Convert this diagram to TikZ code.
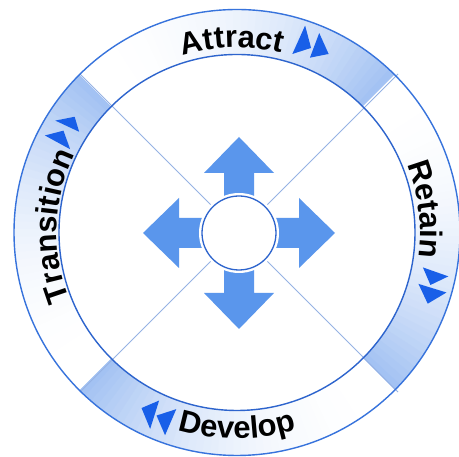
\documentclass[tikz,border=0pt]{standalone}
\usepackage{fontspec}
\newfontfamily\lblfont{Liberation Sans}
\usetikzlibrary{decorations.text,calc}
\definecolor{ringline}{RGB}{55,115,220}
\definecolor{innerline}{RGB}{45,100,205}
\definecolor{diagline}{RGB}{150,178,228}
\definecolor{ringshade}{RGB}{160,192,242}
\definecolor{arrowblue}{RGB}{90,150,236}
\definecolor{triblue}{RGB}{25,95,232}
\newcommand{\lblstyle}{\lblfont\bfseries\fontsize{31}{37}\selectfont}
\begin{document}
\begin{tikzpicture}[x=1pt,y=1pt,
  ringcircle/.style={draw=ringline,line width=1.4pt},
  innercircle/.style={draw=innerline,line width=1.4pt},
  diag/.style={draw=diagline,line width=0.9pt},
  bigarrow/.style={fill=arrowblue},
  tri/.style={fill=triblue},
  arclabel/.style={decorate,decoration={text along path,text align=center,text={|\lblstyle|#1}}}]
\useasboundingbox (0,0) rectangle (459,457);
\fill[white] (0,0) rectangle (459,457);
\coordinate (C) at (237,224.5);
\coordinate (S) at (239,224);
% shaded ring segments
\begin{scope}[shift={(C)}]
\foreach \st in {135,45,-45,-135}{
  \foreach \i in {0,...,44}{
    \pgfmathsetmacro\aa{\st-2*\i}
    \pgfmathsetmacro\ab{\st-2*\i-2-0.4*(\i<44)}
    \pgfmathtruncatemacro\pp{100*((\i+0.5)/45)^2.3}
    \fill[ringshade!\pp!white] (\aa:178) arc[start angle=\aa,end angle=\ab,radius=178]
      -- (\ab:223) arc[start angle=\ab,end angle=\aa,radius=223] -- cycle;
  }
}
\end{scope}
% diagonals
\foreach \a in {45,135,225,315}{
  \draw[diag] (S) -- ($(S)+(\a:225)$);
}
% ring circles
\draw[ringcircle] (C) circle[radius=223];
\draw[innercircle] (C) circle[radius=178];
% four arrows
\foreach \r in {0,90,180,270}{
  \begin{scope}[shift={(S)},rotate=\r]
    \fill[bigarrow] (0,96) -- (35,60) -- (15,60) -- (15,25) -- (-15,25) -- (-15,60) -- (-35,60) -- cycle;
  \end{scope}
}
% centre circle
\draw[white,line width=6pt,fill=white] (S) circle[radius=37];
\draw[innercircle,line width=1.3pt] (S) circle[radius=37];
% labels
\begin{scope}[shift={(C)}]
\path[arclabel=Attract] (131.5:185) arc[start angle=131.5,end angle=51.5,radius=185];
\path[arclabel=Retain] (47:183) arc[start angle=47,end angle=-33,radius=183];
\path[arclabel=Transition] (218:180) arc[start angle=218,end angle=138,radius=180];
\path[arclabel=Develop] (-130:206) arc[start angle=-130,end angle=-50,radius=206];
\end{scope}
% direction triangles
\begin{scope}[scale around={1.12:(310.5,415)}]
\fill[tri] (305.7,429.7) -- (294.3,404.3) -- (311,409.7) -- cycle;
\fill[tri] (318.3,423) -- (310,401) -- (326.7,404.3) -- cycle;
\end{scope}
\begin{scope}[scale around={1.12:(433,172)}]
\fill[tri] (424,187.7) -- (446.7,179.7) -- (430.7,172) -- cycle;
\fill[tri] (420,173) -- (445,165.3) -- (428.3,155.3) -- cycle;
\end{scope}
\begin{scope}[scale around={1.12:(158,40)}]
\fill[tri] (143.3,48) -- (159,54.7) -- (151,29.3) -- cycle;
\fill[tri] (156.7,41.3) -- (174.3,47) -- (164.3,23.7) -- cycle;
\end{scope}
\begin{scope}[scale around={1.12:(62,326)}]
\fill[tri] (56,335.3) -- (73.3,338.7) -- (77.3,325.3) -- cycle;
\fill[tri] (46.7,322) -- (63.3,326.3) -- (69.3,309.7) -- cycle;
\end{scope}
\end{tikzpicture}
\end{document}
